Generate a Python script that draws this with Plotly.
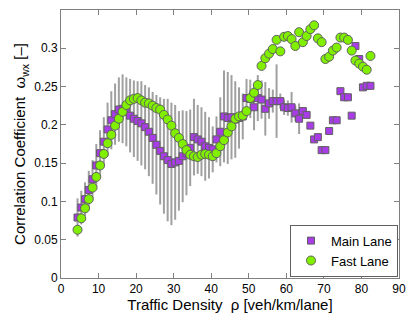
import plotly.graph_objects as go

# Traffic density (veh/km/lane)
density = [4.4, 5.4, 6.4, 7.4, 8.4, 9.4, 10.4, 11.4, 12.4, 13.4, 14.4, 15.4, 16.4, 17.4, 18.4, 19.4,
           20.4, 21.4, 22.4, 23.4, 24.4, 25.4, 26.4, 27.4, 28.4, 29.4, 30.4, 31.4, 32.4, 33.4, 34.4,
           35.4, 36.4, 37.4, 38.4, 39.4, 40.4, 41.4, 42.4, 43.4, 44.4, 45.4, 46.4, 47.4, 48.4, 49.4,
           50.4, 51.4, 52.4, 53.4, 54.4, 55.4, 56.4, 57.4, 58.4, 59.4, 60.4, 61.4, 62.4, 63.4, 64.4,
           65.4, 66.4, 67.4, 68.4, 69.4, 70.4, 71.4, 72.4, 73.4, 74.4, 75.4, 76.4, 77.4, 78.4, 79.4,
           80.4, 81.4, 82.4]

main_lane = [0.079, 0.092, 0.103, 0.115, 0.129, 0.147, 0.163, 0.178, 0.194, 0.206, 0.214, 0.220,
             0.221, 0.217, 0.212, 0.208, 0.205, 0.202, 0.197, 0.191, 0.183, 0.174, 0.166, 0.159,
             0.154, 0.149, 0.151, 0.153, 0.159, 0.163, 0.170, 0.184, 0.181, 0.178, 0.172, 0.170,
             0.168, 0.181, 0.191, 0.211, 0.209, 0.210, 0.207, 0.209, 0.211, 0.235, 0.234, 0.223,
             0.235, 0.233, 0.221, 0.228, 0.231, 0.231, 0.231, 0.223, 0.222, 0.223, 0.215, 0.208,
             0.218, 0.213, 0.199, 0.181, 0.184, 0.167, 0.167, 0.192, 0.206, 0.206, 0.244, 0.236,
             0.236, 0.212, 0.303, 0.286, 0.249, 0.251, 0.251]

main_err = [0.025, 0.022, 0.022, 0.025, 0.025, 0.028, 0.030, 0.032, 0.035, 0.038, 0.040, 0.042,
            0.045, 0.045, 0.048, 0.050, 0.052, 0.055, 0.055, 0.058, 0.060, 0.065, 0.070, 0.075,
            0.080, 0.080, 0.075, 0.065, 0.060, 0.055, 0.050, 0.050, 0.045, 0.045, 0.045, 0.040,
            0.030, 0.030, 0.045, 0.060, 0.060, 0.055, 0.050, 0.040, 0.030, 0.025, 0.025, 0.030,
            0.030, 0.025, 0.035, 0.020, 0.015, 0.048, 0.010, 0.010, 0.010, 0.020, 0.010, 0.020,
            0, 0, 0, 0, 0, 0, 0, 0, 0, 0, 0, 0, 0, 0, 0, 0, 0, 0, 0]

fast_lane = [0.063, 0.078, 0.091, 0.103, 0.118, 0.132, 0.147, 0.162, 0.176, 0.187, 0.199, 0.208,
             0.217, 0.226, 0.232, 0.234, 0.235, 0.232, 0.229, 0.228, 0.225, 0.222, 0.220, 0.213,
             0.207, 0.199, 0.189, 0.183, 0.175, 0.167, 0.161, 0.159, 0.158, 0.161, 0.162, 0.161,
             0.159, 0.163, 0.172, 0.180, 0.190, 0.198, 0.208, 0.211, 0.212, 0.218, 0.235, 0.242,
             0.252, 0.277, 0.287, 0.293, 0.299, 0.311, 0.296, 0.315, 0.316, 0.312, 0.303, 0.321,
             0.308, 0.316, 0.325, 0.330, 0.313, 0.308, 0.286, 0.289, 0.297, 0.301, 0.314, 0.314,
             0.311, 0.297, 0.284, 0.280, 0.276, 0.272, 0.290]

x_ticks = [0, 10, 20, 30, 40, 50, 60, 70, 80, 90]
y_ticks = [0, 0.05, 0.1, 0.15, 0.2, 0.25, 0.3]
y_tick_labels = ["0", "0.05", "0.1", "0.15", "0.2", "0.25", "0.3"]

FONT = "Liberation Sans, Arial, sans-serif"

fig = go.Figure()
fig.add_trace(go.Scatter(
    x=density, y=main_lane, mode="markers", name="Main Lane",
    marker=dict(symbol="square", size=7, color="#a83ce6",
                line=dict(color="#606060", width=1)),
    error_y=dict(type="data", array=main_err, visible=True,
                 color="#a0a0a0", thickness=2, width=0),
))
fig.add_trace(go.Scatter(
    x=density, y=fast_lane, mode="markers", name="Fast Lane",
    marker=dict(symbol="circle", size=9, color="#80f000",
                line=dict(color="#606060", width=1)),
))

axis_common = dict(showline=True, linecolor="#808080", linewidth=1, mirror="ticks",
                   ticks="inside", ticklen=5, tickcolor="#808080", showgrid=False,
                   zeroline=False, automargin=False,
                   tickfont=dict(family=FONT, size=12, color="black"))

fig.update_layout(
    width=409, height=316,
    margin=dict(l=61, r=10, t=10, b=38),
    paper_bgcolor="white", plot_bgcolor="white",
    font=dict(family=FONT, color="black"),
    xaxis=dict(range=[0, 90], tickvals=x_ticks,
               title=dict(text="Traffic Density  ρ [veh/km/lane]", standoff=0,
                          font=dict(family=FONT, size=15)),
               **axis_common),
    yaxis=dict(range=[0, 0.35], tickvals=y_ticks, ticktext=y_tick_labels,
               title=dict(text="Correlation Coefficient  ω<sub>wx</sub> [–]", standoff=4,
                          font=dict(family=FONT, size=15)),
               **axis_common),
    legend=dict(x=0.997, y=0.005, xanchor="right", yanchor="bottom",
                bgcolor="white", bordercolor="#606060", borderwidth=1,
                font=dict(family=FONT, size=13), itemsizing="trace",
                itemwidth=30, tracegroupgap=0),
    showlegend=True,
)

fig.write_html("out.html", config={"displayModeBar": False},
               post_script="document.body.style.margin='0';document.body.style.padding='0';")
